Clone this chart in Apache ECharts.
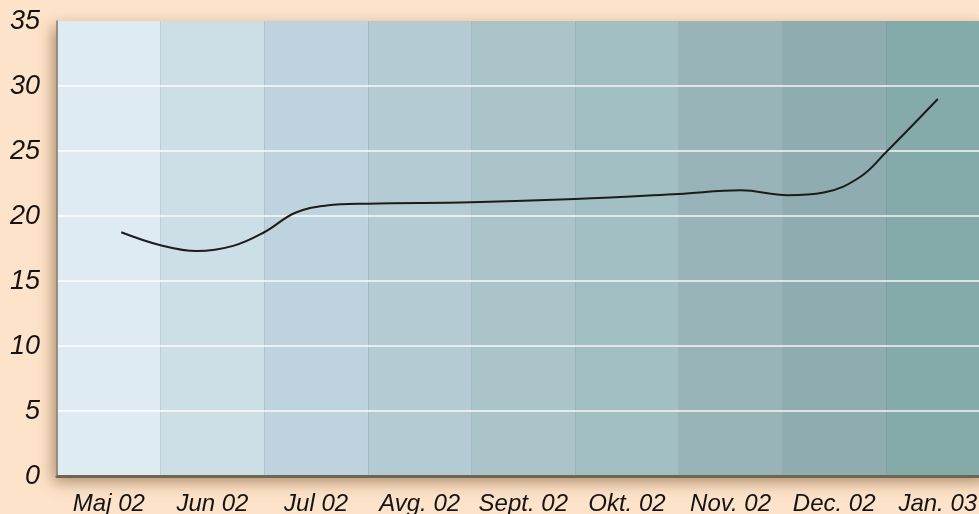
<!DOCTYPE html>
<html>
<head>
<meta charset="utf-8">
<script src="https://cdn.jsdelivr.net/npm/echarts@6/dist/echarts.min.js"></script>
<style>
html,body{margin:0;padding:0;background:#fde3c9;}
#c{width:979px;height:514px;}
</style>
</head>
<body>
<div id="c"></div>
<script>
var categories = ['Maj 02','Jun 02','Jul 02','Avg. 02','Sept. 02','Okt. 02','Nov. 02','Dec. 02','Jan. 03'];
var columnColors = ['#deebf2','#cddfe6','#bfd3de','#b5cbd3','#aac4ca','#a2bfc3','#99b4b8','#8facb1','#85aaaa'];
// line points: [position in months (column i spans i..i+1), value]
var linePoints = [
  [0.62,18.75],[1.0,17.75],[1.35,17.3],[1.7,17.7],[2.0,18.75],[2.3,20.25],[2.6,20.8],[3.0,20.95],
  [4.0,21.05],[5.0,21.3],[6.0,21.7],[6.6,21.98],[7.05,21.6],[7.4,21.8],[7.75,23.0],[8.0,24.9],[8.5,29.0]
];
var yMin = 0, yMax = 35, yStep = 5;

var chart = echarts.init(document.getElementById('c'));
var labelFont = {fontFamily:'Liberation Sans', fontStyle:'italic', color:'#141414'};
chart.setOption({
  backgroundColor:'#fde3c9',
  animation:false,
  grid:{left:57, top:21, right:-10.6, bottom:38, containLabel:false, outerBoundsMode:'none', show:true, backgroundColor:'#deebf2', borderWidth:0,
        shadowColor:'rgba(110,70,30,0.55)', shadowBlur:14, shadowOffsetX:-4, shadowOffsetY:6},
  xAxis:[{
    type:'category', data:categories, boundaryGap:true, z:0,
    axisLine:{show:true, lineStyle:{color:'#6b6752', width:3}},
    axisTick:{show:false},
    axisLabel:Object.assign({fontSize:24, margin:16, interval:0}, labelFont),
    splitArea:{show:true, interval:0, areaStyle:{color:columnColors}},
    splitLine:{show:true, interval:0, lineStyle:{color:'rgba(110,120,125,0.22)', width:1}}
  },{
    type:'value', min:0, max:9, show:false
  }],
  yAxis:{
    type:'value', min:yMin, max:yMax, interval:yStep, z:3,
    axisLine:{show:true, lineStyle:{color:'#8a7c68', width:1.5}},
    axisTick:{show:false},
    axisLabel:Object.assign({fontSize:27, margin:17}, labelFont),
    splitLine:{show:true, showMinLine:false, showMaxLine:false, lineStyle:{color:'rgba(255,255,255,0.9)', width:1.5}}
  },
  series:[{
    type:'line', xAxisIndex:1, data:linePoints, smooth:0.4, symbol:'none',
    lineStyle:{color:'#1c1c1c', width:2}, z:5
  }]
});
</script>
</body>
</html>
